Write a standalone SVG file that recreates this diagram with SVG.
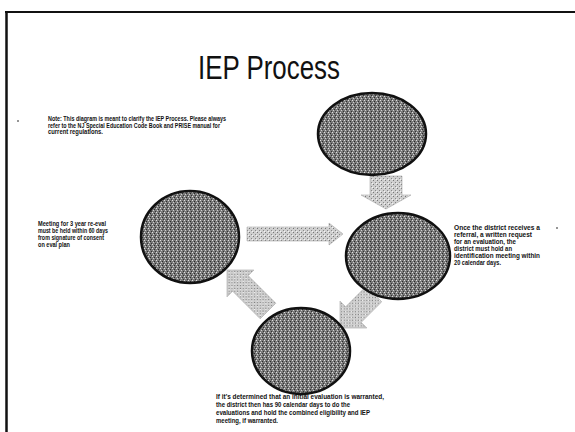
<svg xmlns="http://www.w3.org/2000/svg" width="575" height="432" viewBox="0 0 575 432">
  <defs>
    <pattern id="dither" width="4" height="4" patternUnits="userSpaceOnUse">
      <rect width="4" height="4" fill="#7a7a7a"/>
      <rect x="0" y="0" width="1" height="1" fill="#e0e0e0"/>
      <rect x="2" y="1" width="1" height="1" fill="#2a2a2a"/>
      <rect x="1" y="2" width="1" height="1" fill="#d0d0d0"/>
      <rect x="3" y="3" width="1" height="1" fill="#333"/>
    </pattern>
    <pattern id="adither" width="4" height="4" patternUnits="userSpaceOnUse">
      <rect width="4" height="4" fill="#cfcfcf"/>
      <rect x="1" y="0" width="1" height="1" fill="#777"/>
      <rect x="3" y="2" width="1" height="1" fill="#888"/>
      <rect x="0" y="3" width="1" height="1" fill="#f4f4f4"/>
    </pattern>
  </defs>
  <style>
    .node { fill: url(#dither); stroke: #111; stroke-width: 2.5; }
    .arrow { fill: url(#adither); stroke: #aaa; stroke-width: 0.6; }
    .lbl { font-family: "Liberation Sans", Arial, sans-serif; font-weight: bold; font-size: 6.3px; fill: #111; }
    .title { font-family: "Liberation Sans", Arial, sans-serif; font-size: 33px; fill: #111; }
  </style>
  <rect width="575" height="432" fill="#fff"/>
  <g id="border" stroke="#111" fill="none">
    <line x1="5" y1="12" x2="575" y2="12" stroke-width="2"/>
    <line x1="6.5" y1="11" x2="6.5" y2="432" stroke-width="2.5"/>
  </g>
  <circle cx="18" cy="121" r="0.8" fill="#111"/>
  <circle cx="557" cy="228" r="0.8" fill="#111"/>

  <text class="title" x="198" y="79" textLength="142" lengthAdjust="spacingAndGlyphs">IEP Process</text>

  <g id="note">
    <text class="lbl" x="48" y="121" textLength="178" lengthAdjust="spacingAndGlyphs">Note: This diagram is meant to clarify the IEP Process. Please always</text>
    <text class="lbl" x="48" y="127.5" textLength="172" lengthAdjust="spacingAndGlyphs">refer to the NJ Special Education Code Book and PRISE manual for</text>
    <text class="lbl" x="48" y="134" textLength="55" lengthAdjust="spacingAndGlyphs">current regulations.</text>
  </g>

  <g id="connectors">
    <path class="arrow" d="M247,227 L329,227 L329,223 L343,234 L329,245 L329,241 L247,241 Z"/>
    <path class="arrow" d="M370,176 L402,176 L402,195 L411,195 L386,209 L361,195 L370,195 Z"/>
    <path class="arrow" transform="translate(227,270) rotate(-135)" d="M0,0 L-19,-19 L-19,-11 L-58,-11 L-58,11 L-19,11 L-19,19 Z"/>
    <path class="arrow" transform="translate(340,328) rotate(135)" d="M0,0 L-19,-19 L-19,-11 L-48,-11 L-48,11 L-19,11 L-19,19 Z"/>
  </g>

  <g id="node-top">
    <ellipse class="node" cx="372" cy="134" rx="54" ry="41"/>
  </g>
  <g id="node-right">
    <ellipse class="node" cx="398" cy="256" rx="52" ry="43"/>
  </g>
  <g id="node-left">
    <ellipse class="node" cx="190" cy="237" rx="49" ry="46"/>
  </g>
  <g id="node-bottom">
    <ellipse class="node" cx="301" cy="351" rx="49" ry="43"/>
  </g>

  <g id="left-text">
    <text class="lbl" x="38" y="226" textLength="68" lengthAdjust="spacingAndGlyphs">Meeting for 3 year re-eval</text>
    <text class="lbl" x="38" y="233" textLength="70" lengthAdjust="spacingAndGlyphs">must be held within 60 days</text>
    <text class="lbl" x="38" y="240" textLength="66" lengthAdjust="spacingAndGlyphs">from signature of consent</text>
    <text class="lbl" x="38" y="247" textLength="32" lengthAdjust="spacingAndGlyphs">on eval plan</text>
  </g>

  <g id="right-text">
    <text class="lbl" x="454" y="230" textLength="86" lengthAdjust="spacingAndGlyphs">Once the district receives a</text>
    <text class="lbl" x="454" y="237" textLength="78" lengthAdjust="spacingAndGlyphs">referral, a written request</text>
    <text class="lbl" x="454" y="244" textLength="62" lengthAdjust="spacingAndGlyphs">for an evaluation, the</text>
    <text class="lbl" x="454" y="251" textLength="58" lengthAdjust="spacingAndGlyphs">district must hold an</text>
    <text class="lbl" x="454" y="258" textLength="86" lengthAdjust="spacingAndGlyphs">identification meeting within</text>
    <text class="lbl" x="454" y="265" textLength="47" lengthAdjust="spacingAndGlyphs">20 calendar days.</text>
  </g>

  <g id="bottom-text">
    <text class="lbl" x="216" y="399" textLength="168" lengthAdjust="spacingAndGlyphs">If it's determined that an initial evaluation is warranted,</text>
    <text class="lbl" x="216" y="407" textLength="134" lengthAdjust="spacingAndGlyphs">the district then has 90 calendar days to do the</text>
    <text class="lbl" x="216" y="415" textLength="154" lengthAdjust="spacingAndGlyphs">evaluations and hold the combined eligibility and IEP</text>
    <text class="lbl" x="216" y="423" textLength="62" lengthAdjust="spacingAndGlyphs">meeting, if warranted.</text>
  </g>
</svg>
